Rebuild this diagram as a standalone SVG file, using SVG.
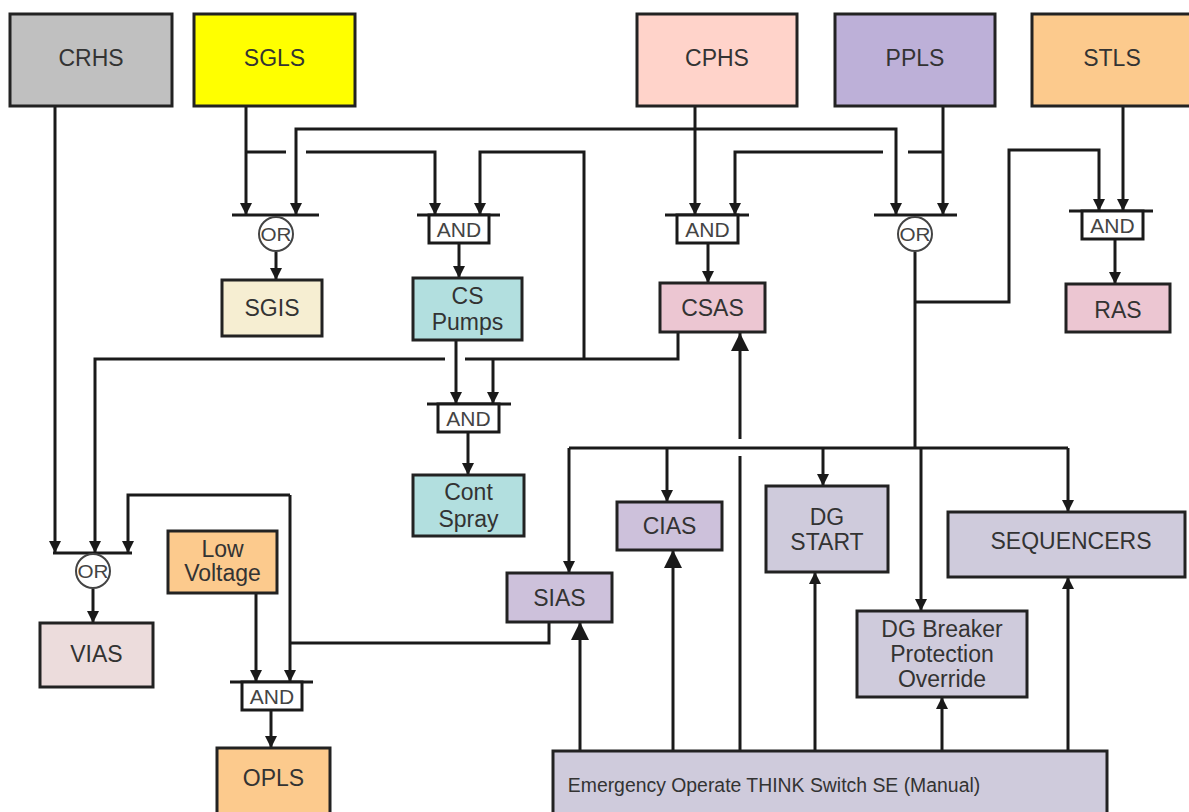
<svg xmlns="http://www.w3.org/2000/svg" width="1189" height="812" viewBox="0 0 1189 812">
<style>
.box{stroke:#222;stroke-width:3}
.t{font-family:"Liberation Sans",Arial,sans-serif;font-size:23px;fill:#333;text-anchor:middle}
.gt{font-family:"Liberation Sans",Arial,sans-serif;font-size:21px;fill:#444;text-anchor:middle}
.ot{font-family:"Liberation Sans",Arial,sans-serif;font-size:19px;fill:#444;text-anchor:middle}
.et{font-family:"Liberation Sans",Arial,sans-serif;font-size:19.4px;fill:#333;text-anchor:middle}
.bar{stroke:#1a1a1a;stroke-width:3;fill:none}
.gbox{fill:#fff;stroke:#1a1a1a;stroke-width:3}
.orc{fill:#fff;stroke:#444;stroke-width:2}
.c{fill:none;stroke:#1a1a1a;stroke-width:3}
.s{marker-end:url(#a)}
.l{marker-end:url(#b)}
</style>
<defs>
<marker id="a" markerUnits="userSpaceOnUse" markerWidth="12" markerHeight="12" refX="12" refY="6" orient="auto"><path d="M0,0 L12,6 L0,12 z" fill="#1a1a1a"/></marker>
<marker id="b" markerUnits="userSpaceOnUse" markerWidth="18" markerHeight="18" refX="18" refY="9" orient="auto"><path d="M0,0 L18,9 L0,18 z" fill="#1a1a1a"/></marker>
</defs>
<rect width="1189" height="812" fill="#fff"/>

<g id="connectors">
<path class="c s" d="M55,106 V553"/>
<path class="c s" d="M246,106 V215"/>
<path class="c" d="M246,152 H286"/>
<path class="c s" d="M306,152 H435 V215"/>
<path class="c s" d="M695,106 V215"/>
<path class="c s" d="M695,129 H296 V215"/>
<path class="c s" d="M695,129 H896 V215"/>
<path class="c s" d="M943,106 V215"/>
<path class="c" d="M943,152 H908"/>
<path class="c s" d="M883,152 H735 V215"/>
<path class="c s" d="M1123,106 V211"/>
<path class="c" d="M915,252 V448"/>
<path class="c s" d="M915,302 H1009 V150 H1099 V211"/>
<path class="c" d="M569,448 H1068"/>
<path class="c s" d="M569,448 V573"/>
<path class="c s" d="M667,448 V502"/>
<path class="c s" d="M823,448 V486"/>
<path class="c s" d="M1068,448 V512"/>
<path class="c s" d="M921,448 V611"/>
<path class="c" d="M678,332 V359 H465"/>
<path class="c s" d="M445,359 H95 V553"/>
<path class="c s" d="M584,359 V152 H480 V215"/>
<path class="c s" d="M493,359 V404"/>
<path class="c s" d="M456,340 V404"/>
<path class="c s" d="M276,252 V280"/>
<path class="c s" d="M459,243 V278"/>
<path class="c s" d="M708,243 V283"/>
<path class="c s" d="M1115,239 V284"/>
<path class="c s" d="M468,432 V475"/>
<path class="c s" d="M93,589 V623"/>
<path class="c s" d="M271,710 V748"/>
<path class="c" d="M549,622 V643 H290"/>
<path class="c s" d="M290,495 H128 V553"/>
<path class="c s" d="M290,495 V682"/>
<path class="c s" d="M256,593 V682"/>
<path class="c l" d="M580,751 V622"/>
<path class="c l" d="M673,751 V550"/>
<path class="c" d="M740,751 V456"/>
<path class="c l" d="M740,439 V333"/>
<path class="c s" d="M815,751 V572"/>
<path class="c s" d="M942,751 V697"/>
<path class="c s" d="M1068,751 V577"/>
</g>

<g id="gate-sgis-or"><path class="bar" d="M232,215 H319"/><circle class="orc" cx="276" cy="234" r="17"/><text class="ot" x="276" y="241" textLength="31" lengthAdjust="spacingAndGlyphs">OR</text></g>
<g id="gate-ppls-or"><path class="bar" d="M874,215 H957"/><circle class="orc" cx="915" cy="234" r="17"/><text class="ot" x="915" y="241" textLength="31" lengthAdjust="spacingAndGlyphs">OR</text></g>
<g id="gate-vias-or"><path class="bar" d="M53,553 H132"/><circle class="orc" cx="93" cy="571" r="17"/><text class="ot" x="93" y="578" textLength="31" lengthAdjust="spacingAndGlyphs">OR</text></g>
<g id="gate-cspumps-and"><path class="bar" d="M417,215 H500"/><rect class="gbox" x="429" y="215" width="60" height="28"/><text class="gt" x="459" y="237">AND</text></g>
<g id="gate-csas-and"><path class="bar" d="M665,215 H749"/><rect class="gbox" x="677" y="215" width="61" height="28"/><text class="gt" x="707.5" y="237">AND</text></g>
<g id="gate-ras-and"><path class="bar" d="M1069,211 H1153"/><rect class="gbox" x="1082" y="211" width="61" height="28"/><text class="gt" x="1112.5" y="233">AND</text></g>
<g id="gate-contspray-and"><path class="bar" d="M427,404 H511"/><rect class="gbox" x="438" y="404" width="61" height="28"/><text class="gt" x="468.5" y="426">AND</text></g>
<g id="gate-opls-and"><path class="bar" d="M230,682 H313"/><rect class="gbox" x="242" y="682" width="60" height="28"/><text class="gt" x="272" y="704">AND</text></g>

<g id="crhs"><rect class="box" x="10" y="14" width="162" height="92" fill="#c0c0c0"/><text class="t" x="91" y="66">CRHS</text></g>
<g id="sgls"><rect class="box" x="194" y="14" width="161" height="92" fill="#ffff00"/><text class="t" x="274.5" y="66">SGLS</text></g>
<g id="cphs"><rect class="box" x="637" y="14" width="160" height="92" fill="#ffd3ca"/><text class="t" x="717" y="66">CPHS</text></g>
<g id="ppls"><rect class="box" x="835" y="14" width="160" height="92" fill="#bdb0d8"/><text class="t" x="915" y="66">PPLS</text></g>
<g id="stls"><rect class="box" x="1032" y="14" width="165" height="92" fill="#fcca8d"/><text class="t" x="1112" y="66">STLS</text></g>
<g id="sgis"><rect class="box" x="222" y="280" width="100" height="56" fill="#f6eed2"/><text class="t" x="272" y="316">SGIS</text></g>
<g id="cs-pumps"><rect class="box" x="413" y="278" width="109" height="62" fill="#b2dfdf"/><text class="t" x="467.5" y="304">CS</text><text class="t" x="467.5" y="330">Pumps</text></g>
<g id="csas"><rect class="box" x="660" y="283" width="105" height="49" fill="#ecc6d2"/><text class="t" x="712.5" y="316">CSAS</text></g>
<g id="ras"><rect class="box" x="1066" y="284" width="104" height="48" fill="#ecc6d2"/><text class="t" x="1118" y="318">RAS</text></g>
<g id="cont-spray"><rect class="box" x="413" y="475" width="111" height="61" fill="#b2dfdf"/><text class="t" x="468.5" y="500">Cont</text><text class="t" x="468.5" y="527">Spray</text></g>
<g id="cias"><rect class="box" x="617" y="502" width="105" height="48" fill="#cdc1db"/><text class="t" x="669.5" y="534">CIAS</text></g>
<g id="sias"><rect class="box" x="507" y="573" width="105" height="49" fill="#cdc1db"/><text class="t" x="559.5" y="606">SIAS</text></g>
<g id="dg-start"><rect class="box" x="766" y="486" width="122" height="86" fill="#cfcbdc"/><text class="t" x="827" y="525">DG</text><text class="t" x="827" y="550">START</text></g>
<g id="sequencers"><rect class="box" x="948" y="512" width="237" height="65" fill="#cfcbdc"/><text class="t" x="1071" y="549">SEQUENCERS</text></g>
<g id="dg-breaker"><rect class="box" x="857" y="611" width="170" height="86" fill="#cfcbdc"/><text class="t" x="942" y="637">DG Breaker</text><text class="t" x="942" y="662">Protection</text><text class="t" x="942" y="687">Override</text></g>
<g id="vias"><rect class="box" x="40" y="623" width="113" height="64" fill="#ecdcdc"/><text class="t" x="96.5" y="662">VIAS</text></g>
<g id="low-voltage"><rect class="box" x="168" y="531" width="109" height="62" fill="#fcca8d"/><text class="t" x="222.5" y="557">Low</text><text class="t" x="222.5" y="581">Voltage</text></g>
<g id="opls"><rect class="box" x="217" y="748" width="113" height="75" fill="#fcca8d"/><text class="t" x="273.5" y="786">OPLS</text></g>
<g id="emergency"><rect class="box" x="553" y="751" width="554" height="75" fill="#cfcbdc"/><text class="et" x="774" y="792">Emergency Operate THINK Switch SE (Manual)</text></g>
</svg>
